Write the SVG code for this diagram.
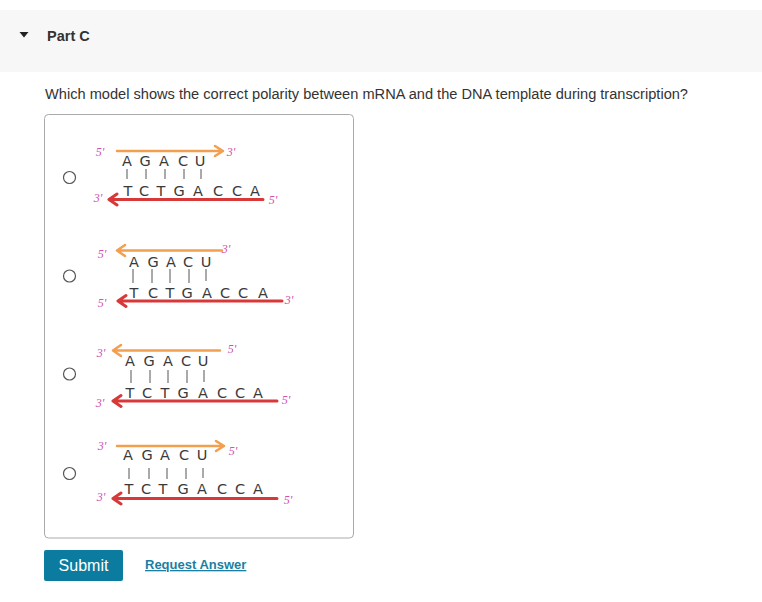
<svg xmlns="http://www.w3.org/2000/svg" width="762" height="602" viewBox="0 0 762 602">
<style>
.q{font-family:"Liberation Sans",Arial,sans-serif;fill:#333}
.b{font-family:"DejaVu Sans","Liberation Sans",sans-serif;font-size:14.5px;fill:#3a3a3a;text-anchor:middle}
.lab{font-family:"Liberation Serif",serif;font-style:italic;font-size:12px;fill:#d050b0;text-anchor:middle}
.or{stroke:#f2a050;stroke-width:2.5;fill:none;stroke-linecap:round;stroke-linejoin:round}
.rd{stroke:#d83838;stroke-width:3;fill:none;stroke-linecap:round;stroke-linejoin:round}
.tk{stroke:#555;stroke-width:1}
.radio{fill:#fff;stroke:#555;stroke-width:1.2}
</style>
<rect width="762" height="602" fill="#fff"/>
<rect x="0" y="10" width="762" height="62" fill="#f7f7f7"/>
<polygon points="19.5,32 28.5,32 24,37.5" fill="#222"/>
<text x="47" y="41" class="q" font-size="14.5" font-weight="bold" fill="#222">Part C</text>
<text x="45" y="99" class="q" font-size="14" textLength="643" lengthAdjust="spacingAndGlyphs">Which model shows the correct polarity between mRNA and the DNA template during transcription?</text>
<rect x="44.5" y="114.5" width="309" height="423.5" rx="4" fill="#fff" stroke="#aaa"/>

<g id="option1">
<circle class="radio" cx="69.5" cy="177.5" r="6"/>
<path class="or" d="M117,151 H222 M215,146 L223,151 L215,156"/>
<text class="lab" x="100" y="156">5'</text><text class="lab" x="231" y="156">3'</text>
<text class="b" x="127 145 164 183 200" y="166">AGACU</text>
<path class="tk" d="M127,169V179M146,169V179M165,169V179M184,169V179M201,169V179"/>
<text class="b" x="128 144 161 179 198 218 237 255" y="196">TCTGACCA</text>
<path class="rd" d="M109,199.5 H263 M117,194 L109,199.5 L117,205"/>
<text class="lab" x="98" y="202">3'</text><text class="lab" x="273" y="204">5'</text>
</g>

<g id="option2">
<circle class="radio" cx="69.5" cy="276" r="6"/>
<path class="or" d="M117,250.5 H222 M125,245 L117,250.5 L125,256"/>
<text class="lab" x="102" y="258">5'</text><text class="lab" x="226" y="253">3'</text>
<text class="b" x="134 153 171 188 206" y="267">AGACU</text>
<path class="tk" d="M133,269V283M152,269V283M170,269V283M189,269V283M206,269V281"/>
<text class="b" x="134 153 170 187 207 225 243 263" y="298">TCTGACCA</text>
<path class="rd" d="M118,301 H282 M126,295.5 L118,301 L126,306.5"/>
<text class="lab" x="102" y="307">5'</text><text class="lab" x="289" y="304">3'</text>
</g>

<g id="option3">
<circle class="radio" cx="69.5" cy="374" r="6"/>
<path class="or" d="M113,350.5 H220 M121,345 L113,350.5 L121,356"/>
<text class="lab" x="101" y="357">3'</text><text class="lab" x="232" y="353">5'</text>
<text class="b" x="130 149 168 186 203" y="366">AGACU</text>
<path class="tk" d="M131,370V383M150,370V383M168,370V383M187,370V383M204,370V382"/>
<text class="b" x="130 147 165 183 203 222 240 258" y="398">TCTGACCA</text>
<path class="rd" d="M113,401 H277 M121,395.5 L113,401 L121,406.5"/>
<text class="lab" x="100" y="407">3'</text><text class="lab" x="286" y="404">5'</text>
</g>

<g id="option4">
<circle class="radio" cx="69.5" cy="473.5" r="6"/>
<path class="or" d="M117,446 H224 M216,441 L224,446 L216,451"/>
<text class="lab" x="102" y="450">3'</text><text class="lab" x="233" y="455">5'</text>
<text class="b" x="128 147 165 184 202" y="460">AGACU</text>
<path class="tk" d="M129,468V479M149,468V479M167,468V479M186,468V479M203,468V478"/>
<text class="b" x="129 146 163 183 202 222 240 258" y="494">TCTGACCA</text>
<path class="rd" d="M113,498.5 H277 M121,493 L113,498.5 L121,504"/>
<text class="lab" x="101" y="501">3'</text><text class="lab" x="288" y="504">5'</text>
</g>

<g id="submit">
<rect x="44" y="550" width="79" height="31" rx="2" fill="#0b7c9f"/>
<text x="83.5" y="571" class="q" font-size="16" text-anchor="middle" style="fill:#fff">Submit</text>
</g>
<g id="request">
<text x="145" y="569" class="q" font-size="13" font-weight="bold" style="fill:#1a7fa3" text-decoration="underline">Request Answer</text>
</g>
</svg>
